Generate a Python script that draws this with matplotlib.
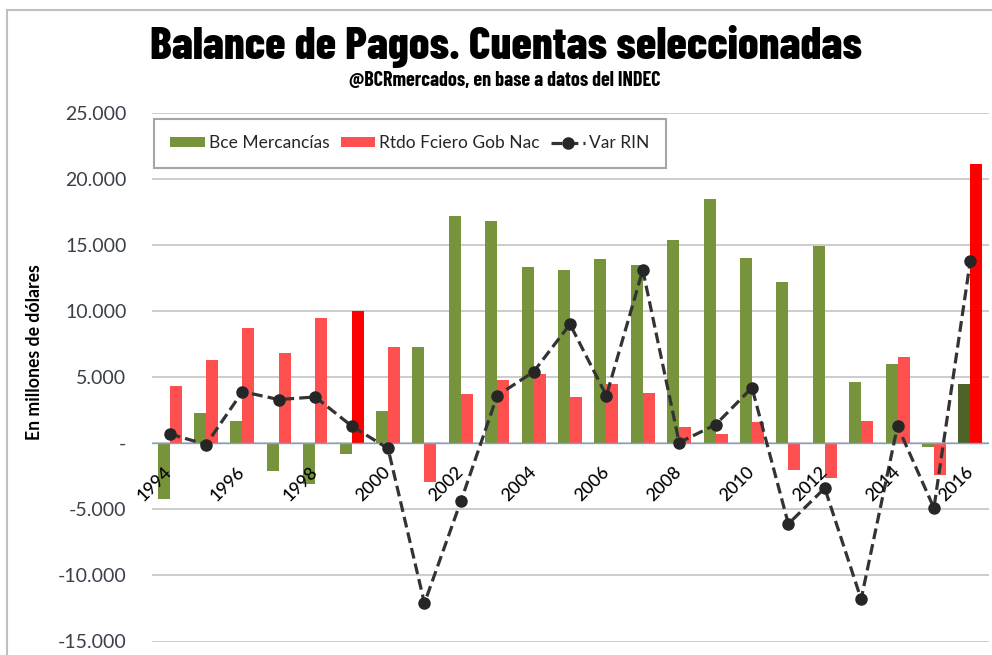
import numpy as np
import matplotlib
matplotlib.use('Agg')
import matplotlib.pyplot as plt
from matplotlib.lines import Line2D

years = list(range(1994, 2017))
bce_mercancias = [-4200, 2300, 1700, -2100, -3100, -800, 2400, 7300, 17200, 16800,
                  13300, 13100, 13900, 13500, 15400, 18500, 14000, 12200, 14900,
                  4600, 6000, -300, 4500]
rtdo_fciero = [4300, 6300, 8700, 6800, 9500, 10000, 7300, -2900, 3700, 4800,
               5200, 3500, 4500, 3800, 1200, 700, 1600, -2000, -2600,
               1700, 6500, -2400, 21100]
var_rin = [700, -100, 3900, 3300, 3500, 1300, -400, -12100, -4400, 3600,
           5400, 9000, 3600, 13100, 50, 1400, 4200, -6100, -3400,
           -11800, 1300, -4900, 13800]
y_ticks = [-15000, -10000, -5000, 0, 5000, 10000, 15000, 20000, 25000]
y_tick_labels = ['-15.000', '-10.000', '-5.000', '-', '5.000', '10.000',
                 '15.000', '20.000', '25.000']
highlight_red = [1999, 2016]
highlight_green = [2016]

green = '#77933C'
green_dark = '#4F6228'
red = '#FF5050'
red_bright = '#FF0000'
title_font = ['Barlow Condensed', 'DejaVu Sans']

fig = plt.figure(figsize=(9.92, 6.55), dpi=100)
ax = fig.add_axes([151.5 / 992, 1 - 641.5 / 655, 837 / 992, 528.8 / 655])

x = np.arange(len(years))
w = 0.33
g_colors = [green_dark if y in highlight_green else green for y in years]
r_colors = [red_bright if y in highlight_red else red for y in years]
b1 = ax.bar(x - w / 2, bce_mercancias, w, color=g_colors, zorder=2)
b2 = ax.bar(x + w / 2, rtdo_fciero, w, color=r_colors, zorder=2)
l1, = ax.plot(x, var_rin, color='#333333', lw=2.3, dashes=(3.4, 1.6),
              marker='o', ms=8, mfc='#262626', mec='#262626', zorder=4)

ax.set_xlim(-0.5, len(years) - 0.5)
ax.set_ylim(-15000, 25000)
ax.set_yticks(y_ticks)
ax.set_yticklabels(y_tick_labels)
ax.tick_params(axis='y', length=0, pad=18, labelsize=14, labelcolor='#3A3F4A')
for lab in ax.get_yticklabels():
    lab.set_family('Lato')
ax.set_xticks([])
ax.grid(axis='y', color='#BFBFBF', lw=1.1, zorder=0)
ax.set_axisbelow(True)
for s in ax.spines.values():
    s.set_visible(False)
ax.axhline(0, color='#7F9FCF', lw=1, zorder=3)

# year labels sit just under the zero line, every other year
for i, y in enumerate(years):
    if y % 2 == 0:
        ax.annotate(str(y), (x[i], 0), xytext=(0, -19), textcoords='offset points',
                    rotation=45, ha='right', va='center', rotation_mode='anchor',
                    fontsize=12.8, family='Lato', weight='medium', color='#000000',
                    zorder=5)

leg = ax.legend([b1, b2, l1], ['Bce Mercancías', 'Rtdo Fciero Gob Nac', 'Var RIN'],
                ncol=3, loc='upper left', bbox_to_anchor=(154 / 992, 1 - 119 / 655),
                bbox_transform=fig.transFigure, borderaxespad=0, fancybox=False,
                framealpha=1, edgecolor='#A6A6A6', prop={'family': 'Lato', 'size': 12.5},
                handlelength=2.0, handleheight=0.5, handletextpad=0.2,
                columnspacing=0.65, borderpad=0.95)
leg.get_frame().set_linewidth(1.5)
for t in leg.get_texts():
    t.set_color('#262626')

fig.text(506 / 992, 1 - 47 / 655, 'Balance de Pagos. Cuentas seleccionadas',
         ha='center', va='center', family=title_font, weight=800, fontsize=33)
fig.text(505 / 992, 1 - 81 / 655, '@BCRmercados, en base a datos del INDEC',
         ha='center', va='center', family=title_font, weight=700, fontsize=14.5)
fig.text(35 / 992, 1 - 352 / 655, 'En millones de dólares', rotation=90,
         ha='center', va='center', family='Lato', weight='bold', fontsize=12.7)

fig.add_artist(Line2D([7 / 992, 7 / 992], [0, 1 - 10 / 655], color='#BFBFBF', lw=1.5,
                      transform=fig.transFigure))
fig.add_artist(Line2D([7 / 992, 1], [1 - 10 / 655, 1 - 10 / 655], color='#BFBFBF', lw=1.5,
                      transform=fig.transFigure))

fig.savefig('out.png', dpi=100)
